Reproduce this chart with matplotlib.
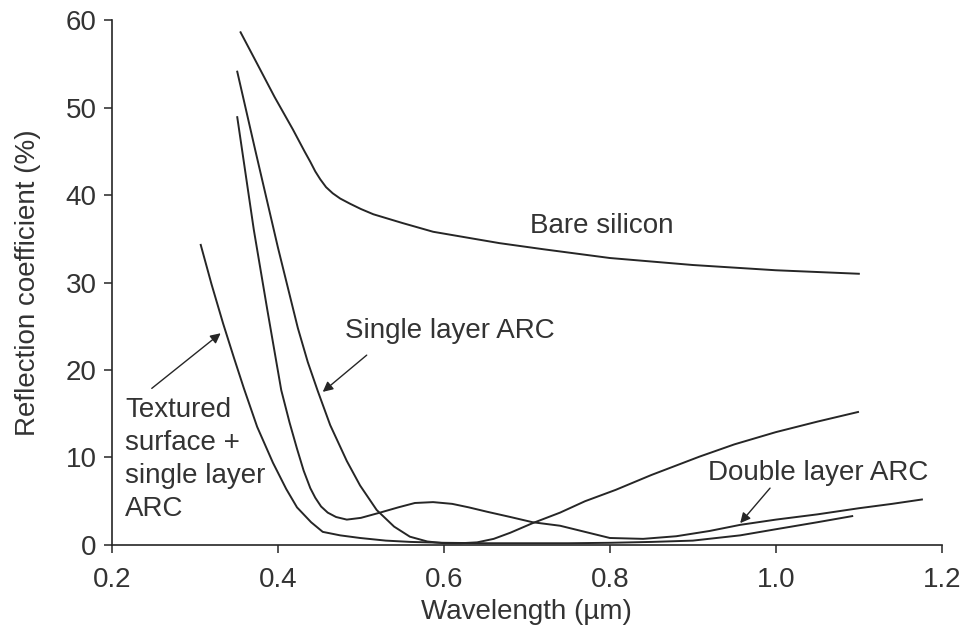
import matplotlib
matplotlib.use('Agg')
import matplotlib.pyplot as plt

plt.rcParams['font.family'] = ['Liberation Sans', 'DejaVu Sans']

# wavelength (um) / reflection (%)
bare_x = [0.355, 0.375, 0.396, 0.418, 0.432, 0.439, 0.445, 0.451, 0.458, 0.466, 0.475, 0.487,
          0.50, 0.515, 0.55, 0.587, 0.63, 0.667, 0.72, 0.8, 0.9, 1.0, 1.1]
bare_y = [58.6, 55.0, 51.2, 47.5, 45.0, 43.8, 42.7, 41.8, 40.9, 40.2, 39.6, 39.0,
          38.4, 37.8, 36.8, 35.8, 35.1, 34.5, 33.8, 32.8, 32.0, 31.4, 31.0]

single_x = [0.351, 0.373, 0.400, 0.424, 0.436, 0.448, 0.463, 0.483, 0.499, 0.519, 0.540,
            0.559, 0.580, 0.600, 0.620, 0.640, 0.660, 0.680, 0.707, 0.74, 0.77, 0.807,
            0.85, 0.908, 0.95, 1.0, 1.05, 1.099]
single_y = [54.1, 45.0, 34.0, 24.8, 20.9, 17.6, 13.7, 9.6, 6.8, 4.0, 2.1,
            0.95, 0.4, 0.2, 0.2, 0.3, 0.7, 1.4, 2.5, 3.7, 5.0, 6.3,
            8.0, 10.1, 11.5, 12.9, 14.1, 15.2]

double_x = [0.351, 0.371, 0.387, 0.404, 0.414, 0.423, 0.431, 0.439, 0.445, 0.452, 0.460,
            0.470, 0.483, 0.50, 0.523, 0.545, 0.565, 0.587, 0.61, 0.63, 0.652, 0.68,
            0.707, 0.74, 0.77, 0.8, 0.84, 0.88, 0.92, 0.957, 1.0, 1.05, 1.1, 1.14, 1.176]
double_y = [48.9, 36.0, 27.0, 17.7, 14.0, 11.0, 8.5, 6.5, 5.4, 4.4, 3.7,
            3.2, 2.9, 3.1, 3.7, 4.3, 4.8, 4.9, 4.7, 4.3, 3.8, 3.2,
            2.6, 2.2, 1.5, 0.8, 0.7, 1.0, 1.6, 2.3, 2.9, 3.5, 4.2, 4.7, 5.2]

textured_x = [0.307, 0.320, 0.334, 0.347, 0.359, 0.375, 0.394, 0.410, 0.423, 0.440, 0.454,
              0.475, 0.499, 0.53, 0.56, 0.6, 0.65, 0.7, 0.75, 0.8, 0.85, 0.9, 0.957,
              1.0, 1.05, 1.092]
textured_y = [34.3, 29.8, 25.3, 21.4, 17.9, 13.5, 9.4, 6.4, 4.3, 2.6, 1.5,
              1.1, 0.8, 0.5, 0.35, 0.25, 0.2, 0.2, 0.2, 0.25, 0.35, 0.5, 1.1,
              1.8, 2.6, 3.3]

x_ticks = [0.2, 0.4, 0.6, 0.8, 1.0, 1.2]
y_ticks = [0, 10, 20, 30, 40, 50, 60]

line_col = '#262626'
text_col = '#333333'
fs = 20

fig = plt.figure(figsize=(9.65, 6.34), dpi=100)
ax = fig.add_axes([0.116, 0.1404, 0.86, 0.828])

for xs, ys in [(bare_x, bare_y), (single_x, single_y), (double_x, double_y),
               (textured_x, textured_y)]:
    ax.plot(xs, ys, color=line_col, lw=1.4, solid_joinstyle='round', clip_on=False)

ax.set_xlim(0.2, 1.2)
ax.set_ylim(0, 60)
ax.set_xticks(x_ticks)
ax.set_xticklabels(['%.1f' % v for v in x_ticks])
ax.set_yticks(y_ticks)
for s in ['top', 'right']:
    ax.spines[s].set_visible(False)
for s in ['left', 'bottom']:
    ax.spines[s].set_color(line_col)
    ax.spines[s].set_linewidth(1.2)
ax.tick_params(direction='out', length=6, width=1.1, color=line_col,
               labelsize=fs, labelcolor=text_col, pad=5)
ax.tick_params(axis='x', pad=10)

ax.set_xlabel('Wavelength (\u00b5m)', fontsize=fs, color=text_col, labelpad=4)
ax.set_ylabel('Reflection coefficient (%)', fontsize=fs, color=text_col, labelpad=18)

arrow = dict(arrowstyle='-|>', color=line_col, lw=1.0, mutation_scale=15,
             shrinkA=0, shrinkB=0)

ax.text(0.79, 36.5, 'Bare silicon', fontsize=fs, color=text_col,
        ha='center', va='center')

ax.text(0.607, 24.5, 'Single layer ARC', fontsize=fs, color=text_col,
        ha='center', va='center')
ax.annotate('', xy=(0.454, 17.5), xytext=(0.507, 21.7), arrowprops=arrow)

ax.text(0.2157, 16.9, 'Textured\nsurface +\nsingle layer\nARC', fontsize=fs,
        color=text_col, ha='left', va='top', linespacing=1.34)
ax.annotate('', xy=(0.331, 24.2), xytext=(0.248, 17.9), arrowprops=arrow)

ax.text(1.0506, 8.2, 'Double layer ARC', fontsize=fs, color=text_col,
        ha='center', va='center')
ax.annotate('', xy=(0.957, 2.5), xytext=(0.993, 6.5), arrowprops=arrow)

fig.savefig('out.png', dpi=100)
